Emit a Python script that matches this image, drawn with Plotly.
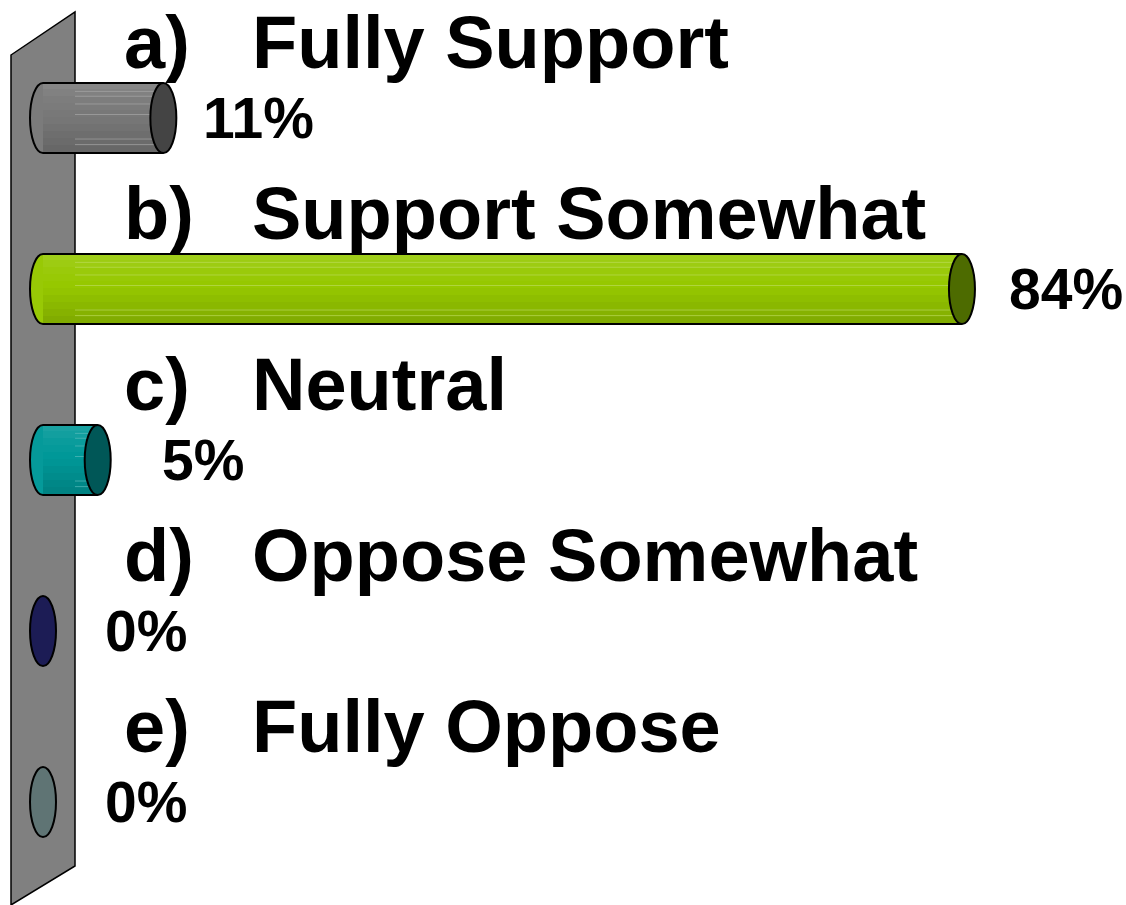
import plotly.graph_objects as go

# ---- data ----
letters = ["a)", "b)", "c)", "d)", "e)"]
categories = ["Fully Support", "Support Somewhat", "Neutral", "Oppose Somewhat", "Fully Oppose"]
values = [11, 84, 5, 0, 0]
value_labels = ["11%", "84%", "5%", "0%", "0%"]

# ---- styles ----
body_colors = ["#787878", "#96C800", "#009898", "#1C1C55", "#5F7474"]
cap_colors = ["#444444", "#4D6B00", "#005757", "#1C1C55", "#5F7474"]
label_xshift = [38, 45, 62, 60, 60]

W, H = 1126, 905
PX0, PXS = 43.0, 10.94        # pixel of value 0, pixels per percent
PY0, PYS = 118.0, 171.0       # pixel of first category, pixels per category
BAR_W = 0.41
CAP_HALF = 13.0 / PXS         # half width of cylinder caps in data units
WALL_EDGE = (75 - PX0) / PXS  # data x of wall's right edge


def shade(hexcol, f):
    r, g, b = (int(hexcol[k:k + 2], 16) for k in (1, 3, 5))
    if f >= 0:
        r, g, b = (c + (255 - c) * f for c in (r, g, b))
    else:
        r, g, b = (c * (1 + f) for c in (r, g, b))
    return "#%02x%02x%02x" % tuple(int(round(max(0, min(255, c)))) for c in (r, g, b))


fig = go.Figure()

# cylinder body as a vertical gradient of thin bands
factors = [0.10, 0.07, 0.04, 0.02, 0.0, -0.02, -0.05, -0.08, -0.11, -0.14]
nb = len(factors)
bh = BAR_W / nb
for k, f in enumerate(factors):
    fig.add_trace(go.Bar(y=categories, x=values, orientation="h",
                         width=bh * 1.15, offset=-BAR_W / 2 + k * bh - (0.15 * bh if k else 0),
                         marker=dict(color=[shade(c, f) for c in body_colors], line=dict(width=0)),
                         hoverinfo="skip"))

shapes = []


def px(x):
    return x / W


def py(y):
    return 1 - y / H


wall = f"M {px(11)},{py(55)} L {px(75)},{py(12)} L {px(75)},{py(866)} L {px(11)},{py(905)} Z"
shapes.append(dict(type="path", path=wall, xref="paper", yref="paper",
                   fillcolor="#808080", line=dict(color="black", width=1.5), layer="below"))

line_fracs = [0.12, 0.19, 0.30, 0.45, 0.80, 0.88]
for i, (v, bc, cc) in enumerate(zip(values, body_colors, cap_colors)):
    if v > 0:
        # rounded left end
        shapes.append(dict(type="circle", xref="x", yref="y",
                           x0=-CAP_HALF, x1=CAP_HALF, y0=i - BAR_W / 2, y1=i + BAR_W / 2,
                           fillcolor=shade(bc, 0.02), line=dict(color="black", width=2), layer="below"))
        # faint highlight lines
        for fr in line_fracs:
            yy = i - BAR_W / 2 + fr * BAR_W
            shapes.append(dict(type="line", xref="x", yref="y", x0=WALL_EDGE, x1=v, y0=yy, y1=yy,
                               line=dict(color=shade(bc, 0.35), width=1), opacity=0.7, layer="above"))
        # outline top / bottom
        for yy in (i - BAR_W / 2, i + BAR_W / 2):
            shapes.append(dict(type="line", xref="x", yref="y", x0=0, x1=v, y0=yy, y1=yy,
                               line=dict(color="black", width=2), layer="above"))
    # right end cap
    shapes.append(dict(type="circle", xref="x", yref="y",
                       x0=v - CAP_HALF, x1=v + CAP_HALF, y0=i - BAR_W / 2, y1=i + BAR_W / 2,
                       fillcolor=cc, line=dict(color="black", width=2), layer="above"))

annotations = []
big_font = dict(family="Liberation Sans, Arial, sans-serif", size=74, color="black", weight="bold")
pct_font = dict(family="Liberation Sans, Arial, sans-serif", size=57, color="black", weight="bold")
for i, (lt, cat, v, lab) in enumerate(zip(letters, categories, values, value_labels)):
    annotations.append(dict(text=lt, xref="paper", yref="y", x=122 / W, y=i - 0.44,
                            xanchor="left", yanchor="middle", showarrow=False, font=big_font))
    annotations.append(dict(text=cat, xref="paper", yref="y", x=250 / W, y=i - 0.44,
                            xanchor="left", yanchor="middle", showarrow=False, font=big_font))
    annotations.append(dict(text=lab, xref="x", yref="y", x=v, y=i, xshift=label_xshift[i],
                            xanchor="left", yanchor="middle", showarrow=False, font=pct_font))

fig.update_layout(
    width=W, height=H,
    margin=dict(l=0, r=0, t=0, b=0),
    paper_bgcolor="white", plot_bgcolor="rgba(0,0,0,0)",
    barmode="overlay", showlegend=False,
    xaxis=dict(range=[-PX0 / PXS, (W - PX0) / PXS], visible=False, fixedrange=True),
    yaxis=dict(type="category", range=[(H - PY0) / PYS, -PY0 / PYS], visible=False, fixedrange=True),
    shapes=shapes, annotations=annotations,
)

fig.write_html("out.html", config={"displayModeBar": False},
               post_script="document.body.style.margin='0';document.body.style.overflow='hidden';")
